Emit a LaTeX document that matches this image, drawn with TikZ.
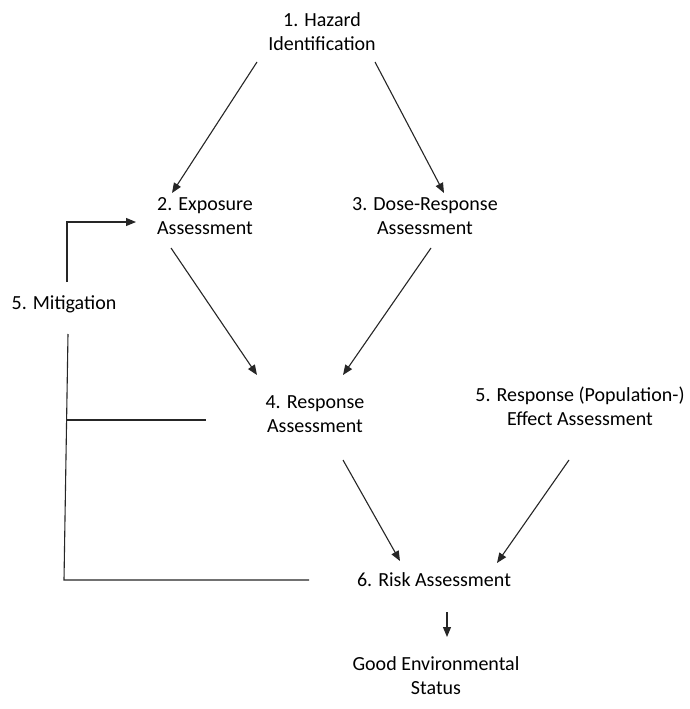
\documentclass[tikz,border=0pt]{standalone}
\usepackage{fontspec}
\setmainfont{Carlito}
\usetikzlibrary{arrows.meta}
\begin{document}
\begin{tikzpicture}[x=1pt,y=-1pt,
  lbl/.style={align=center,inner sep=0pt,font=\fontsize{20}{24}\selectfont},
  ln/.style={draw=black!85,line width=1.1pt},
  arr/.style={ln,-{Triangle[length=10pt,width=8pt]}}]
\useasboundingbox[fill=white] (0,0) rectangle (689,709);
\node[lbl] (hazard) at (322,32) {1. Hazard\\Identification};
\node[lbl] (expo) at (205,216) {2. Exposure\\Assessment};
\node[lbl] (dose) at (425,216) {3. Dose-Response\\Assessment};
\node[lbl] (mit) at (64,304) {5. Mitigation};
\node[lbl] (resp) at (315,414) {4. Response\\Assessment};
\node[lbl] (effect) at (580,406) {5. Response (Population-)\\Effect Assessment};
\node[lbl] (risk) at (434,580) {6. Risk Assessment};
\node[lbl] (good) at (436,676) {Good Environmental\\Status};
\draw[arr] ([shift={(-65,30)}]hazard.center) -- ([shift={(-33,-23)}]expo.center);
\draw[arr] ([shift={(53,30)}]hazard.center) -- ([shift={(19,-23)}]dose.center);
\draw[arr] ([shift={(-34,32)}]expo.center) -- ([shift={(-58,-39)}]resp.center);
\draw[arr] ([shift={(6,32)}]dose.center) -- ([shift={(28,-39)}]resp.center);
\draw[arr] ([shift={(28,46)}]resp.center) -- ([shift={(-34,-19)}]risk.center);
\draw[arr] ([shift={(-11,54)}]effect.center) -- ([shift={(63,-17)}]risk.center);
\draw[arr] ([shift={(13,32)}]risk.center) -- ([shift={(11,-39)}]good.center);
\draw[arr] ([shift={(3,-22)}]mit.center) |- ([shift={(-69,6)}]expo.center);
\draw[ln] ([shift={(4,30)}]mit.center) -- ([shift={(0,276)}]mit.center) -- ([shift={(-125,0)}]risk.center);
\draw[ln] ([shift={(3,116)}]mit.center) -- ([shift={(-109,6)}]resp.center);
\end{tikzpicture}
\end{document}
